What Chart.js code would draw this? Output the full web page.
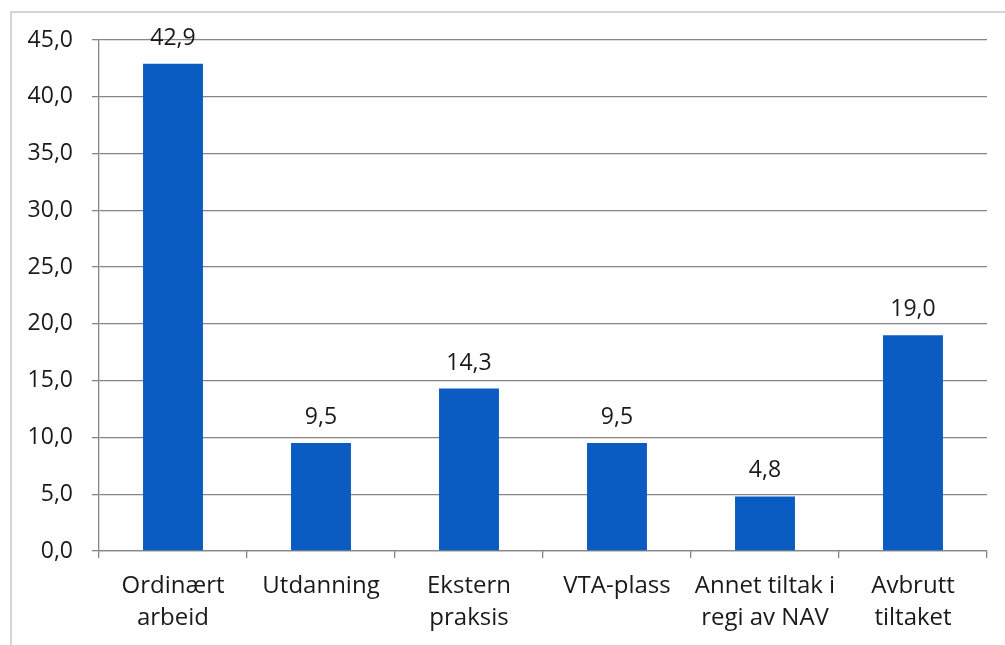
<!DOCTYPE html>
<html><head><meta charset="utf-8">
<script src="https://cdn.jsdelivr.net/npm/chart.js@4"></script>
<style>
html,body{margin:0;padding:0;background:#fff;overflow:hidden}
#wrap{position:relative;width:1005px;height:645px}
#frame{position:absolute;left:10px;top:11px;width:1000px;height:640px;border:2px solid #d4d4d4;box-sizing:border-box}
canvas{position:absolute;left:0;top:0}
</style></head>
<body><div id="wrap"><div id="frame"></div><canvas id="c" width="1005" height="645"></canvas></div>
<script>
const categories = [["Ordinært","arbeid"],"Utdanning",["Ekstern","praksis"],"VTA-plass",["Annet tiltak i","regi av NAV"],["Avbrutt","tiltaket"]];
const values = [42.9, 9.5, 14.3, 9.5, 4.8, 19.0];
const yTicks = [0,5,10,15,20,25,30,35,40,45];

const fmt = v => v.toFixed(1).replace('.', ',');
const FONT = "'Open Sans', sans-serif";

const labelPlugin = {
  id: 'barLabels',
  afterDatasetsDraw(chart) {
    const ctx = chart.ctx;
    const meta = chart.getDatasetMeta(0);
    ctx.save();
    ctx.font = "23px " + FONT;
    ctx.fillStyle = '#1a1a1a';
    ctx.textAlign = 'center';
    ctx.textBaseline = 'alphabetic';
    meta.data.forEach((bar, i) => {
      ctx.fillText(fmt(values[i]), bar.x, bar.y - 19);
    });
    ctx.restore();
  }
};

new Chart(document.getElementById('c'), {
  type: 'bar',
  data: {
    labels: categories,
    datasets: [{ data: values, backgroundColor: '#0b5cc2', borderWidth: 0, categoryPercentage: 1, barPercentage: 0.405 }]
  },
  options: {
    responsive: false,
    animation: false,
    devicePixelRatio: 1,
    layout: { padding: { top: 40, right: 18, left: 0, bottom: 0 } },
    plugins: { legend: { display: false }, tooltip: { enabled: false } },
    scales: {
      x: {
        offset: true,
        grid: { offset: true, drawOnChartArea: false, drawTicks: true, tickLength: 7, color: '#858585', lineWidth: 1.3 },
        border: { display: true, color: '#858585', width: 1.3 },
        ticks: { color: '#1a1a1a', font: { family: FONT, size: 24, lineHeight: 1.33 }, padding: 12, maxRotation: 0, autoSkip: false },
        afterFit(s) { s.height = 94; }
      },
      y: {
        min: 0, max: 45,
        afterBuildTicks(s) { s.ticks = yTicks.map(v => ({ value: v })); },
        grid: { color: '#858585', lineWidth: 1.3, tickLength: 7, drawTicks: true },
        border: { display: true, color: '#858585', width: 1.3 },
        ticks: { color: '#1a1a1a', font: { family: FONT, size: 23 }, padding: 19, callback: v => fmt(v) },
        afterFit(s) { s.width = 99; }
      }
    }
  },
  plugins: [labelPlugin]
});
</script></body></html>
